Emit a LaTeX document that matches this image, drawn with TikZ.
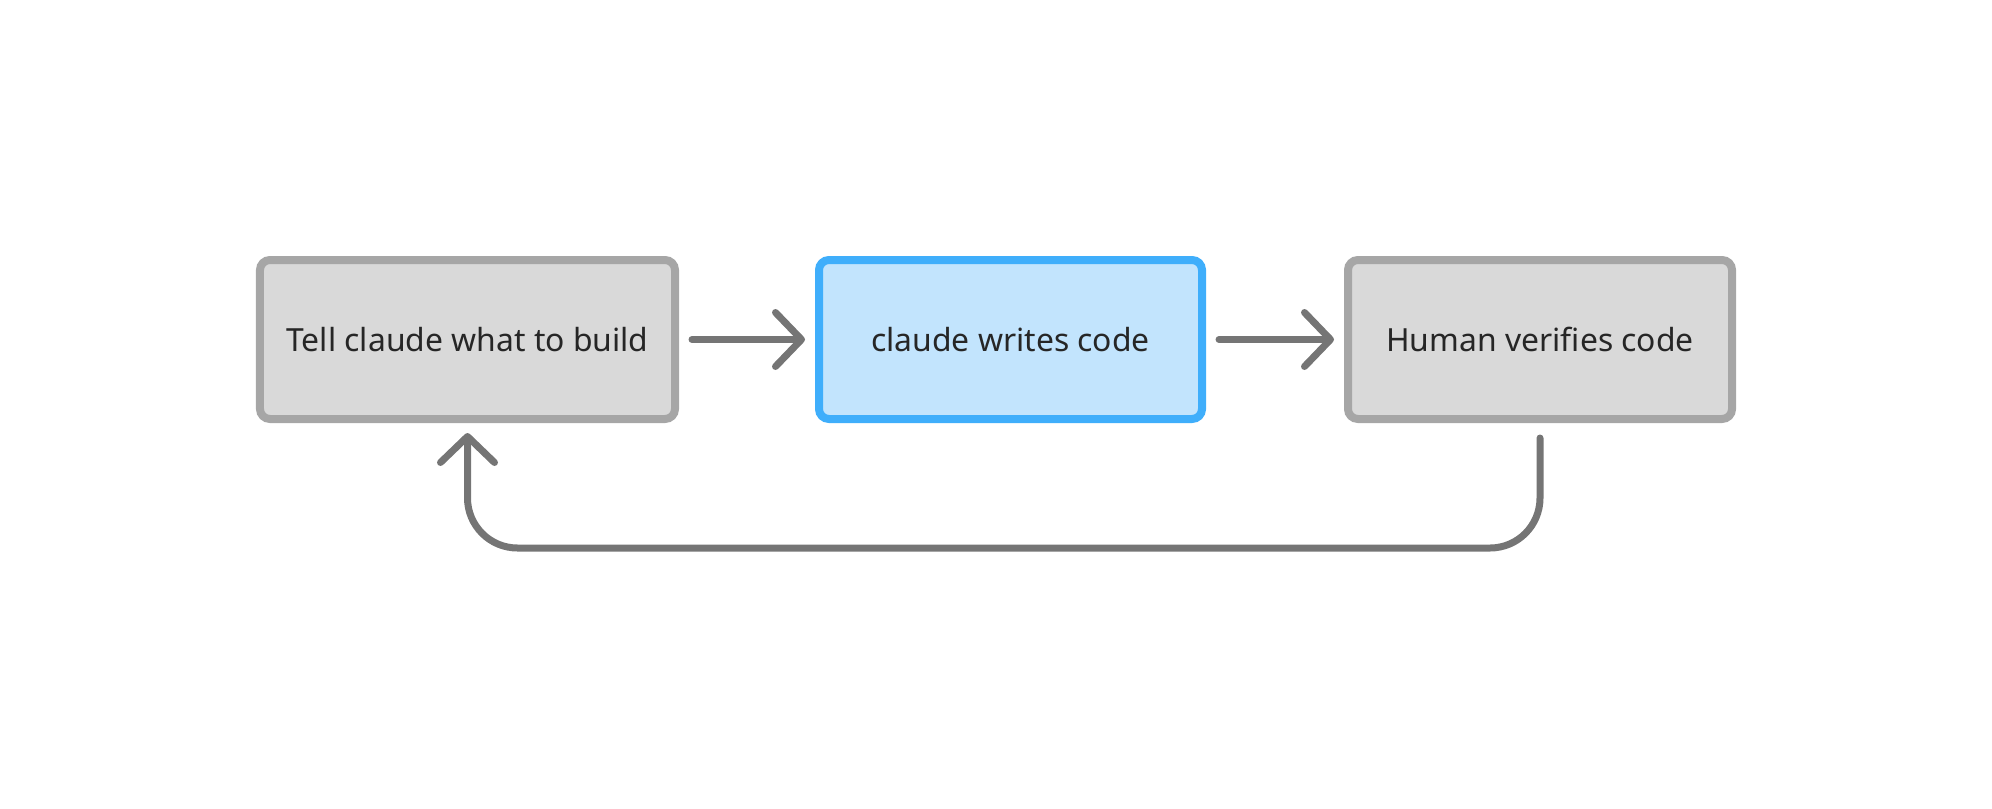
\documentclass[tikz,border=0pt]{standalone}
\usepackage{fontspec}
\setmainfont{Noto Sans}
\usetikzlibrary{arrows.meta}
\definecolor{boxfill}{HTML}{D9D9D9}
\definecolor{boxline}{HTML}{A6A6A6}
\definecolor{bluefill}{HTML}{C2E4FD}
\definecolor{blueline}{HTML}{3FAEFB}
\definecolor{flowcol}{HTML}{757575}
\definecolor{txt}{HTML}{262626}
\tikzset{
  stepbox/.style={draw=boxline, fill=boxfill, line width=4bp, rounded corners=5bp,
    minimum height=79.5bp, text=txt, font=\fontsize{16}{19}\selectfont, inner sep=0pt},
  bluebox/.style={stepbox, draw=blueline, fill=bluefill},
  flow/.style={draw=flowcol, line width=3.5bp, line cap=round, line join=round,
    -{Straight Barb[length=13bp, width=27bp, round]}},
}
\begin{document}
\begin{tikzpicture}[x=0.5bp, y=-0.5bp]
\useasboundingbox (0,0) rectangle (1992,808);
\node[stepbox, minimum width=207.5bp] (b1) at (467.5,339.5) {Tell claude what to build};
\node[bluebox, minimum width=191.5bp] (b2) at (1010.5,339.5) {claude writes code};
\node[stepbox, minimum width=192bp] (b3) at (1540,339.5) {Human verifies code};
\draw[flow, shorten <=6.5bp, shorten >=5bp] (b1.east) -- (b2.west);
\draw[flow, shorten <=6.5bp, shorten >=5bp] (b2.east) -- (b3.west);
\draw[flow, rounded corners=25bp] ([yshift=-7.5bp]b3.south) -- ([yshift=-62.5bp]b3.south) -| ([yshift=-5bp]b1.south);
\end{tikzpicture}
\end{document}
